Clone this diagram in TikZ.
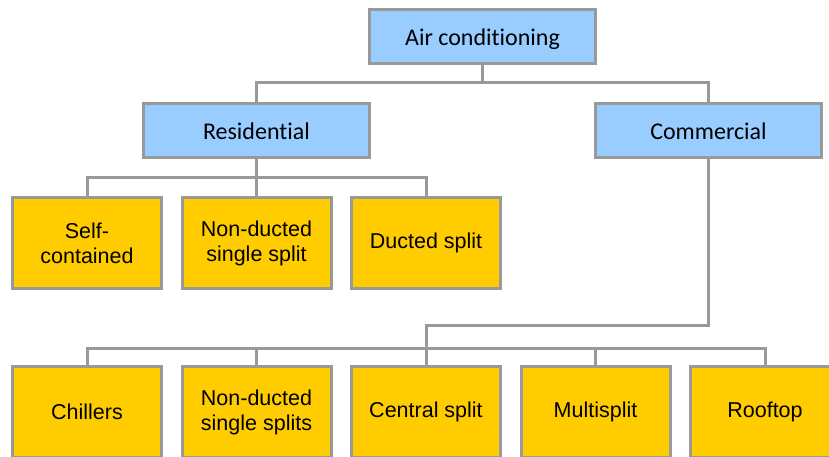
\documentclass[tikz,border=0pt]{standalone}
\usepackage{fontspec}
\newfontfamily\calfont[Ligatures={NoCommon}]{Carlito}
\newfontfamily\arifont{Liberation Sans}
\definecolor{boxblue}{HTML}{99CCFF}
\definecolor{boxyellow}{HTML}{FFCC00}
\definecolor{linegray}{HTML}{999999}
\begin{document}
\begin{tikzpicture}[x=1pt,y=-1pt,
  base/.style={draw=linegray, line width=3pt, inner sep=0pt, outer sep=0pt, text=black},
  bluebox/.style={base, fill=boxblue, minimum width=226pt, minimum height=54pt,
     text height=17pt, text depth=0pt,
     font=\calfont\fontsize{24}{28}\selectfont},
  yellowbox/.style={base, fill=boxyellow, minimum width=149pt, minimum height=91pt, align=center,
     font=\arifont\fontsize{21.5}{25}\selectfont},
  conn/.style={draw=linegray, line width=3pt}]
\useasboundingbox (0,0) rectangle (829,456);
\clip (0,0) rectangle (829,456);
\fill[white] (0,0) rectangle (829,456);
\node[bluebox] (ac) at (482.5,36.5) {Air conditioning};
\node[bluebox] (res) at (256.5,130.5) {Residential};
\node[bluebox] (com) at (708.5,130.5) {Commercial};
\node[yellowbox] (r1) at (87,243) {Self-\\contained};
\node[yellowbox] (r2) at (256.5,243) {Non-ducted\\single split};
\node[yellowbox] (r3) at (426,243) {Ducted split};
\node[yellowbox] (c1) at (87,412) {Chillers};
\node[yellowbox] (c2) at (256.5,412) {Non-ducted\\single splits};
\node[yellowbox] (c3) at (426,412) {Central split};
\node[yellowbox] (c4) at (595.5,412) {Multisplit};
\node[yellowbox] (c5) at (765,412) {Rooftop};
\draw[conn] (ac.south) -- ++(0,18.5) -| (res.north);
\draw[conn] (ac.south) -- ++(0,18.5) -| (com.north);
\draw[conn] (res.south) -- ++(0,20) -| (r1.north);
\draw[conn] (res.south) -- ++(0,20) -| (r2.north);
\draw[conn] (res.south) -- ++(0,20) -| (r3.north);
\draw[conn] (com.south) -- ++(0,168) -| (c3.north);
\draw[conn] (c3.north) -- ++(0,-18.5) -| (c1.north);
\draw[conn] (c3.north) -- ++(0,-18.5) -| (c2.north);
\draw[conn] (c3.north) -- ++(0,-18.5) -| (c4.north);
\draw[conn] (c3.north) -- ++(0,-18.5) -| (c5.north);
\end{tikzpicture}
\end{document}
